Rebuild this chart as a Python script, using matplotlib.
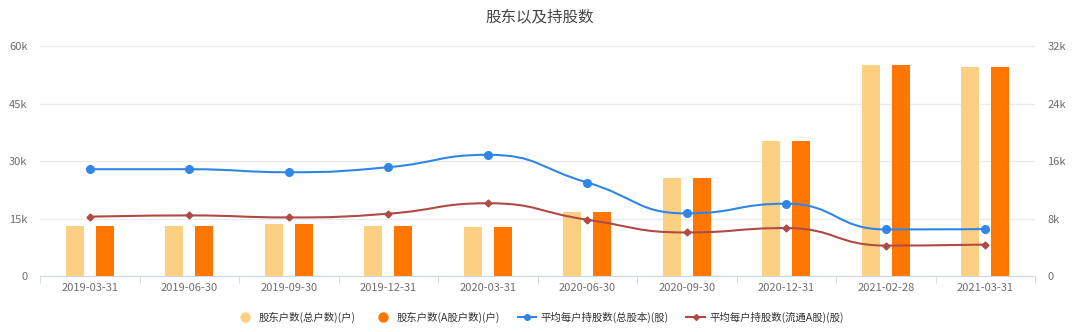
import numpy as np
import matplotlib
matplotlib.use("Agg")
import matplotlib.pyplot as plt
from matplotlib.path import Path
from matplotlib.patches import PathPatch
from matplotlib.lines import Line2D
from matplotlib.ticker import FuncFormatter

plt.rcParams['font.family'] = ['Noto Sans CJK SC', 'DejaVu Sans']

# data
dates = ["2019-03-31", "2019-06-30", "2019-09-30", "2019-12-31", "2020-03-31",
         "2020-06-30", "2020-09-30", "2020-12-31", "2021-02-28", "2021-03-31"]
holders_total = [13200, 13200, 13700, 13000, 12800, 16800, 25500, 35200, 55100, 54500]
holders_a = [13200, 13200, 13700, 13000, 12800, 16800, 25500, 35200, 55100, 54500]
avg_total = [14880, 14880, 14460, 15160, 16880, 13030, 8740, 10090, 6510, 6560]
avg_float = [8280, 8460, 8180, 8700, 10150, 7860, 6090, 6700, 4270, 4410]

names = ["股东户数(总户数)(户)", "股东户数(A股户数)(户)",
         "平均每户持股数(总股本)(股)", "平均每户持股数(流通A股)(股)"]
c_light = "#fcd083"
c_dark = "#ff7700"
c_blue = "#2f86e6"
c_red = "#b04a45"
c_text = "#6e6e6e"


def smooth_path(xs, ys, s=0.5):
    # bezier smoothing through the points, control points kept inside neighbour range
    pts = np.column_stack([xs, ys]).astype(float)
    n = len(pts)
    cp_in = [pts[0]] * n
    cp_out = [pts[0]] * n
    for i in range(n):
        if i == 0 or i == n - 1:
            cp_in[i] = pts[i]
            cp_out[i] = pts[i]
            continue
        v = (pts[i + 1] - pts[i - 1]) * s / 2
        k = 1.0
        for nb, sign in [(pts[i - 1], -1), (pts[i + 1], 1)]:
            dy = sign * v[1]
            lim = nb[1] - pts[i][1]
            if dy != 0:
                if lim == 0 or np.sign(lim) != np.sign(dy):
                    k = 0.0
                elif abs(dy) > abs(lim):
                    k = min(k, abs(lim) / abs(dy))
        vy = v.copy()
        vy[1] *= k
        cp_in[i] = pts[i] - vy
        cp_out[i] = pts[i] + vy
    verts = [pts[0]]
    codes = [Path.MOVETO]
    for i in range(n - 1):
        verts += [cp_out[i], cp_in[i + 1], pts[i + 1]]
        codes += [Path.CURVE4] * 3
    return Path(verts, codes)


fig = plt.figure(figsize=(10.8, 3.32), dpi=100)
ax = fig.add_axes([40 / 1080, 1 - 276.3 / 332, 995 / 1080, (276.3 - 46) / 332])
ax2 = ax.twinx()

x = np.arange(len(dates))
w = 0.178
ax.bar(x - 0.15, holders_total, width=w, color=c_light, zorder=2)
ax.bar(x + 0.15, holders_a, width=w, color=c_dark, zorder=2)

ax.set_ylim(0, 60000)
ax.set_xlim(-0.5, len(dates) - 0.5)
ax.set_yticks([0, 15000, 30000, 45000, 60000])
ax.yaxis.set_major_formatter(FuncFormatter(lambda v, p: "0" if v == 0 else "%dk" % (v / 1000)))
ax.grid(axis="y", color="#ebebeb", lw=1, zorder=0)
ax.set_axisbelow(True)

ax2.set_ylim(0, 32000)
ax2.set_yticks([0, 8000, 16000, 24000, 32000])
ax2.yaxis.set_major_formatter(FuncFormatter(lambda v, p: "0" if v == 0 else "%dk" % (v / 1000)))

for s_ in ["top", "left", "right"]:
    ax.spines[s_].set_visible(False)
    ax2.spines[s_].set_visible(False)
ax2.spines["bottom"].set_visible(False)
ax.spines["bottom"].set_color("#cfd8e6")

ax.set_xticks(x)
ax.set_xticklabels(dates)
ax.set_xticks(np.arange(len(dates) + 1) - 0.5, minor=True)
ax.tick_params(axis="x", which="major", length=0, pad=5, labelsize=8, labelcolor=c_text)
ax.tick_params(axis="x", which="minor", length=5, color="#cfd8e6")
ax.tick_params(axis="y", length=0, pad=9, labelsize=8, labelcolor=c_text)
ax2.tick_params(axis="y", length=0, pad=9, labelsize=8, labelcolor=c_text)

for vals, col, mk, ms in [(avg_total, c_blue, "o", 5.5), (avg_float, c_red, "D", 3.5)]:
    ax2.add_patch(PathPatch(smooth_path(x, vals), fill=False, edgecolor=col, lw=1.5, zorder=3))
    ax2.plot(x, vals, ls="none", marker=mk, ms=ms, color=col, zorder=4)

fig.text(0.5, 1 - 17 / 332, "股东以及持股数", ha="center", va="center", fontsize=11.2, color="#464646")

handles = [
    Line2D([], [], ls="none", marker="o", ms=6.5, color=c_light),
    Line2D([], [], ls="none", marker="o", ms=6.5, color=c_dark),
    Line2D([], [], color=c_blue, marker="o", ms=4, lw=1.5),
    Line2D([], [], color=c_red, marker="D", ms=3, lw=1.5),
]
fig.legend(handles, names, loc="center", bbox_to_anchor=(0.5, 1 - 317 / 332), ncol=4,
           frameon=False, fontsize=7.5, handlelength=1.8, handletextpad=0.4, columnspacing=1.7,
           labelcolor="#333333")

fig.savefig("out.png", dpi=100)
